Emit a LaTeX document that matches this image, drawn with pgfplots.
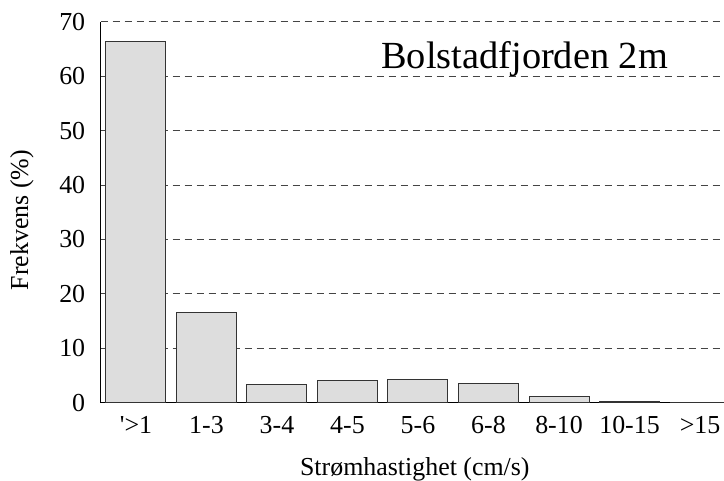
\documentclass[border=0pt]{standalone}
\usepackage{fontspec}
\setmainfont{Liberation Serif}
\usepackage{pgfplots}
\pgfplotsset{compat=1.18}
\definecolor{barfill}{HTML}{DDDDDD}
\definecolor{baredge}{HTML}{333333}
\definecolor{gridgray}{HTML}{444444}

\begin{document}
\begin{tikzpicture}
\begin{axis}[
    at={(0,0)}, anchor=south west,
    scale only axis,
    width=623.3bp, height=381bp,
    xmin=-0.5, xmax=8.34,
    ymin=0, ymax=70,
    ytick={0,10,...,70},
    xtick={0,...,8},
    xticklabels={\textquotesingle>1, 1-3, 3-4, 4-5, 5-6, 6-8, 8-10, 10-15, >15},
    axis x line*=bottom, axis y line*=left,
    axis line style={-, line width=1bp, black},
    major tick length=0pt,
    /pgf/number format/assume math mode=true,
    tick label style={font=\fontsize{26}{26}\selectfont},
    yticklabel style={xshift=-12bp},
    xticklabel style={yshift=-10bp},
    ymajorgrids,
    major grid style={gridgray, line width=0.9bp, dash pattern=on 7bp off 5bp},
    xlabel={Strømhastighet (cm/s)},
    ylabel={Frekvens (\%)},
    label style={font=\fontsize{26}{26}\selectfont},
    xlabel style={at={(axis description cs:0.504,-0.19)}, anchor=base},
    ylabel style={at={(axis description cs:-0.1166,0.479)}, anchor=base},
    ybar, bar width=60bp,
]
\addplot[fill=barfill, draw=baredge, line width=1bp] coordinates {
    (0,66.3) (1,16.5) (2,3.4) (3,4.15) (4,4.35) (5,3.45) (6,1.1) (7,0.3) (8,0.08)
};
\node[anchor=base west, font=\fontsize{38.5}{38.5}\selectfont, inner sep=0pt]
    at (rel axis cs:0.45,0.878) {Bolstadfjorden 2m};
\end{axis}
\pgfresetboundingbox
\path (-100.7bp,-78.3bp) rectangle (623.3bp,402.7bp);
\end{tikzpicture}
\end{document}
